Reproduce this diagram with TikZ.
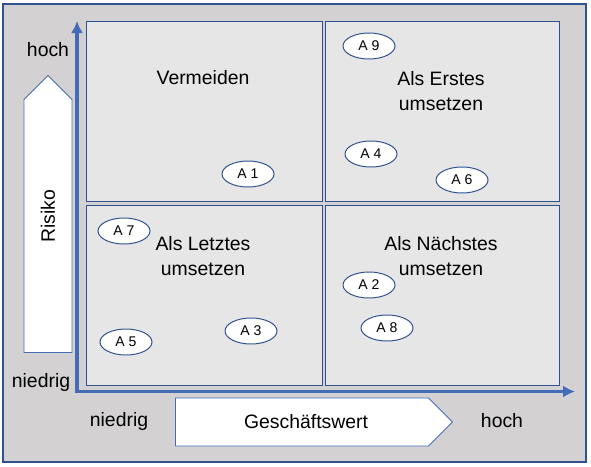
\documentclass[tikz,border=0pt]{standalone}
\usepackage{fontspec}
\setmainfont{Liberation Sans}
\usepackage{tikz}
\usetikzlibrary{arrows.meta,shapes,positioning}
\usepackage{xcolor}
\definecolor{mxframe}{RGB}{47,82,143}
\definecolor{mxaxis}{RGB}{68,108,182}
\definecolor{mxbg}{RGB}{211,209,210}
\definecolor{mxcell}{RGB}{230,230,230}
\newcommand{\mainsize}{\fontsize{13.8}{17.7}\selectfont}
\newcommand{\smallsize}{\fontsize{10}{12}\selectfont}
\tikzstyle{axis} = [line width=2.8pt, draw=mxaxis, arrows={Latex[length=3mm,width=3mm]-Latex[length=3mm,width=3mm]}]
\tikzstyle{quadrant} = [rectangle, draw=mxframe, fill=mxcell, line width=0.6pt, minimum width=59mm, minimum height=45mm]
\tikzstyle{cellname} = [align=center, font=\mainsize]
\tikzstyle{axislabel} = [font=\mainsize]
\tikzstyle{measure} = [ellipse, draw=mxframe, fill=white, line width=0.7pt, minimum width=13mm, minimum height=6.5mm, inner sep=0pt, font=\smallsize]
\tikzstyle{bigarrow} = [single arrow, single arrow head extend=0pt, single arrow tip angle=90, draw=mxaxis, fill=white, line width=0.6pt, minimum width=12mm, minimum height=69.25mm, inner sep=0pt, font=\mainsize]

\begin{document}
\begin{tikzpicture}[x=0.25mm, y=-0.25mm]
\useasboundingbox (0,0) rectangle (591,466);
% Background frame
\draw[draw=mxframe, fill=mxbg, line width=0.8pt] (3,4) rectangle (586,462);

% Portfolio quadrants
\node (q1) [quadrant] at (204,111) {};
\node (q2) [quadrant, minimum width=58.5mm] at (442,111) {};
\node (q3) [quadrant] at (204,295.5) {};
\node (q4) [quadrant, minimum width=58.5mm] at (442,295.5) {};

\node (avoid) [cellname] at (203,78) {Vermeiden};
\node (first) [cellname] at (441,91) {Als Erstes\\umsetzen};
\node (last) [cellname] at (203,256) {Als Letztes\\umsetzen};
\node (next) [cellname] at (441,256) {Als Nächstes\\umsetzen};

% Axes
\coordinate (ytip) at (77,21);
\coordinate (xtip) at (575,391.5);
\draw[axis] (ytip) |- (xtip);

\node (risk) [bigarrow, rotate=90] at (48,226) {\hspace*{5mm}Risiko};
\node (value) [bigarrow] at (302,422) {\hspace*{2mm}Geschäftswert};

\node (yhigh) [axislabel] at (48,50) {hoch};
\node (ylow) [axislabel] at (41,382) {niedrig};
\node (xlow) [axislabel] at (119,421) {niedrig};
\node (xhigh) [axislabel] at (502,421) {hoch};

% Measures
\node (a1) [measure] at (248,174) {A 1};
\node (a2) [measure] at (369,285) {A 2};
\node (a3) [measure] at (251,331) {A 3};
\node (a4) [measure] at (371,154) {A 4};
\node (a5) [measure] at (126,342) {A 5};
\node (a6) [measure] at (462,180) {A 6};
\node (a7) [measure] at (124,231) {A 7};
\node (a8) [measure] at (387,328) {A 8};
\node (a9) [measure] at (369,46) {A 9};
\end{tikzpicture}
\end{document}
